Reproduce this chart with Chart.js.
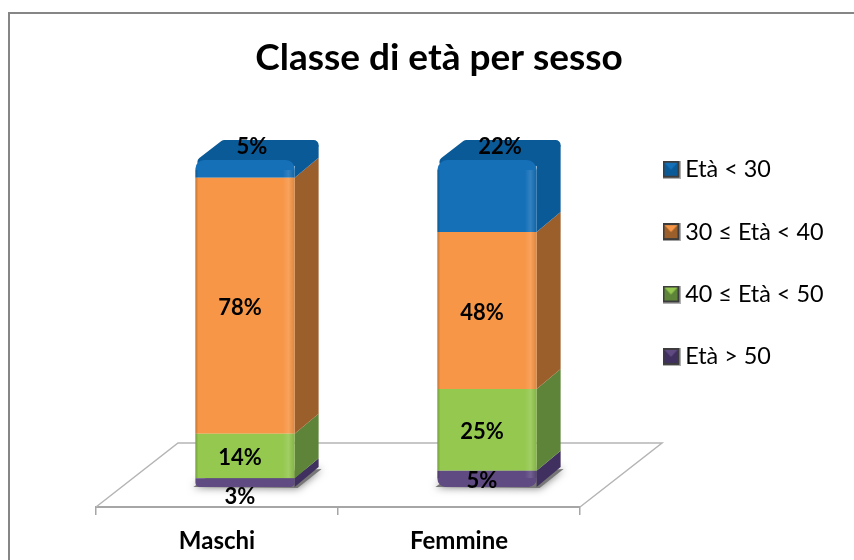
<!DOCTYPE html>
<html>
<head>
<meta charset="utf-8">
<style>
  body { margin: 0; background: #fff; }
  canvas { display: block; }
</style>
<script src="https://cdn.jsdelivr.net/npm/chart.js@4"></script>
</head>
<body>
<canvas id="myChart" width="854" height="560"></canvas>
<script>
const categories = ['Maschi', 'Femmine'];
const seriesNames = ['Età > 50', '40 ≤ Età < 50', '30 ≤ Età < 40', 'Età < 30'];
const over50 = [2.7, 5];
const from40to50 = [13.6, 25];
const from30to40 = [78.3, 48];
const under30 = [5.4, 22];
const seriesValues = [over50, from40to50, from30to40, under30];

const frontColors = ['#5f4a82', '#94c84f', '#f79646', '#1570b8'];
const sideColors = ['#40305f', '#5d8438', '#9b5f2b', '#0b5a98'];

// 3d look: bars are moved off the axis, and get a depth on the top and right
const shiftX = 28, shiftY = -20;
const depthX = 24, depthY = -20;
const floorX = 82, floorY = -64;

function poly(ctx, pts, color) {
  ctx.beginPath();
  pts.forEach((p, i) => i ? ctx.lineTo(p[0], p[1]) : ctx.moveTo(p[0], p[1]));
  ctx.closePath();
  ctx.fillStyle = color;
  ctx.fill();
}

// small bevelled square for the legend
function legendIcon(i) {
  const c = document.createElement('canvas');
  c.width = 18;
  c.height = 18;
  const ctx = c.getContext('2d');
  ctx.fillStyle = '#3c3c3c';
  ctx.fillRect(0, 0, 18, 18);
  ctx.fillStyle = '#b0b0b0';
  ctx.fillRect(0, 17, 18, 1);
  ctx.fillRect(17, 0, 1, 18);
  poly(ctx, [[2, 2], [15, 2], [15, 15], [2, 15]], sideColors[i]);
  poly(ctx, [[2, 2], [15, 2], [8.5, 9]], frontColors[i]);
  return c;
}

const bars3d = {
  id: 'bars3d',
  afterLayout(chart) {
    // title and legend sit outside of the plot box
    const t = chart.titleBlock;
    t.left = 22; t.right = 856; t.width = 834;
    const l = chart.legend;
    l.left = 630.5; l.right = 854; l.width = 223.5;
    l.top = 119; l.bottom = 500; l.height = 381;
  },
  beforeDatasetsDraw(chart) {
    const ctx = chart.ctx;
    const a = chart.chartArea;

    // frame
    ctx.save();
    ctx.strokeStyle = '#868686';
    ctx.lineWidth = 2;
    ctx.strokeRect(9, 13, 900, 600);

    // floor
    ctx.strokeStyle = '#b5b5b5';
    ctx.lineWidth = 1.5;
    ctx.beginPath();
    ctx.moveTo(a.left, a.bottom);
    ctx.lineTo(a.left + floorX, a.bottom + floorY);
    ctx.lineTo(a.right + floorX, a.bottom + floorY);
    ctx.lineTo(a.right, a.bottom);
    ctx.stroke();

    // shadows and side faces
    const n = chart.data.datasets.length;
    chart.data.datasets.forEach((ds, d) => {
      chart.getDatasetMeta(d).data.forEach((bar) => {
        const r = bar.x + bar.width / 2 + shiftX;
        const l = bar.x - bar.width / 2 + shiftX;
        const top = bar.y + shiftY;
        const base = bar.base + shiftY;
        if (d === 0) {
          ctx.save();
          ctx.shadowColor = 'rgba(0,0,0,0.55)';
          ctx.shadowBlur = 9;
          poly(ctx, [[l - 2, base], [l + 12, base - 10], [r + depthX + 3, base + depthY + 2], [r + 3, base + 1]], '#777');
          ctx.restore();
        }
        const lidCut = d === n - 1 ? 5 : 0;
        poly(ctx, [[r, top], [r + depthX, top + depthY + lidCut], [r + depthX, base + depthY], [r, base]], sideColors[d]);
        if (d === n - 1) {
          ctx.save();
          ctx.lineJoin = 'round';
          ctx.lineWidth = 10;
          ctx.strokeStyle = sideColors[d];
          const pts = [[l + 7, top + 2], [l + depthX + 5, top + depthY + 5], [r + depthX - 5, top + depthY + 5], [r - 3, top + 2]];
          ctx.beginPath();
          pts.forEach((p, i) => i ? ctx.lineTo(p[0], p[1]) : ctx.moveTo(p[0], p[1]));
          ctx.closePath();
          ctx.stroke();
          poly(ctx, pts, sideColors[d]);
          ctx.restore();
        }
      });
    });
    ctx.restore();

    ctx.save();
    ctx.translate(shiftX, shiftY);
  },
  afterDatasetsDraw(chart) {
    const ctx = chart.ctx;
    const n = chart.data.datasets.length;

    // soft edges on the front of the bars, kept off the rounded corners
    chart.data.datasets.forEach((ds, d) => {
      chart.getDatasetMeta(d).data.forEach((bar) => {
        const l = bar.x - bar.width / 2;
        const g = ctx.createLinearGradient(l, 0, l + bar.width, 0);
        g.addColorStop(0, 'rgba(0,0,0,0.22)');
        g.addColorStop(0.03, 'rgba(0,0,0,0)');
        g.addColorStop(0.88, 'rgba(255,255,255,0)');
        g.addColorStop(0.94, 'rgba(255,255,255,0.12)');
        g.addColorStop(1, 'rgba(0,0,0,0.1)');
        ctx.fillStyle = g;
        const topCut = d === n - 1 ? 10 : 0;
        const baseCut = d === 0 ? 9 : 0;
        ctx.fillRect(l, bar.y + topCut, bar.width, Math.max(0, bar.base - bar.y - topCut - baseCut));
      });
    });
    ctx.restore();

    // value labels
    ctx.save();
    ctx.font = 'bold 22px Lato';
    ctx.fillStyle = '#000';
    ctx.textAlign = 'center';
    ctx.textBaseline = 'middle';
    chart.data.datasets.forEach((ds, d) => {
      chart.getDatasetMeta(d).data.forEach((bar, i) => {
        let x = bar.x + shiftX - 5;
        let y = (bar.y + bar.base) / 2 + shiftY + 2;
        if (d === n - 1) {
          // top series is labelled on its lid
          x += depthX / 2 + i * 6;
          y = bar.y + shiftY + depthY / 2 - 3;
        } else if (bar.base - bar.y < 14) {
          y += 12;
        }
        ctx.fillText(Math.round(ds.data[i]) + '%', x, y);
      });
    });
    ctx.restore();
  }
};

const topRound = { topLeft: 10, topRight: 10, bottomLeft: 0, bottomRight: 0 };
const bottomRound = { topLeft: 0, topRight: 0, bottomLeft: 9, bottomRight: 9 };

new Chart(document.getElementById('myChart'), {
  type: 'bar',
  data: {
    labels: categories,
    datasets: seriesNames.map((name, i) => ({
      label: name,
      data: seriesValues[i],
      backgroundColor: frontColors[i],
      borderWidth: 0,
      borderRadius: i === 0 ? bottomRound : i === 3 ? topRound : 0,
      borderSkipped: false,
      categoryPercentage: 1,
      barPercentage: 0.41,
      clip: false
    }))
  },
  plugins: [bars3d],
  options: {
    responsive: false,
    animation: false,
    layout: {
      padding: { left: 96, right: 274, top: 0, bottom: 0 }
    },
    scales: {
      x: {
        stacked: true,
        grid: { drawOnChartArea: false, drawTicks: true, tickLength: 8, color: '#a6a6a6', lineWidth: 1.5 },
        border: { display: true, color: '#a6a6a6', width: 2 },
        ticks: { color: '#000', font: { family: 'Lato', size: 24, weight: 'bold' }, padding: 12, maxRotation: 0 },
        afterFit(scale) { scale.height = 53; }
      },
      y: {
        display: false,
        stacked: true,
        min: 0,
        max: 100
      }
    },
    plugins: {
      tooltip: { enabled: false },
      title: {
        display: true,
        text: 'Classe di età per sesso',
        color: '#000',
        font: { family: 'Lato', size: 37, weight: 'bold', lineHeight: 1.2 },
        padding: { top: 36, bottom: 99.6 }
      },
      legend: {
        position: 'chartArea',
        align: 'start',
        reverse: true,
        labels: {
          color: '#000',
          font: { family: 'Lato', size: 23.4 },
          usePointStyle: true,
          pointStyleWidth: 4,
          boxHeight: 15,
          padding: 39,
          generateLabels(chart) {
            return chart.data.datasets.map((ds, i) => ({
              text: ds.label,
              pointStyle: legendIcon(i),
              fontColor: '#000',
              datasetIndex: i
            }));
          }
        }
      }
    }
  }
});
</script>
</body>
</html>
